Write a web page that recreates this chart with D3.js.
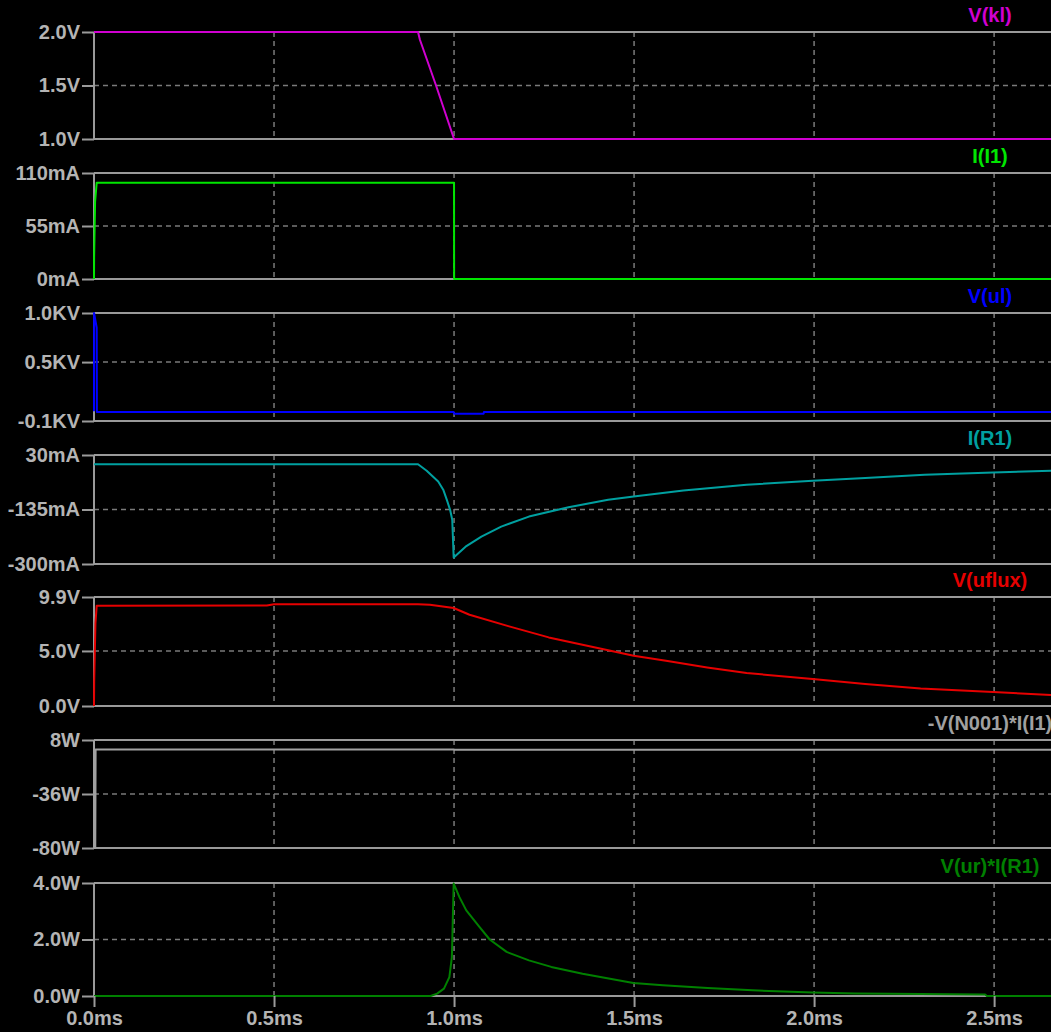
<!DOCTYPE html>
<html>
<head>
<meta charset="utf-8">
<script src="https://cdn.jsdelivr.net/npm/d3@7/dist/d3.min.js"></script>
<style>
  html, body { margin: 0; padding: 0; background: #000; overflow: hidden; }
  svg { display: block; }
  text { font-family: "Liberation Sans", Arial, sans-serif; font-weight: bold; }
</style>
</head>
<body>
<svg id="chart" width="1051" height="1032"></svg>
<script>
// ---- time axis ----
const timeTicks = [0, 0.5, 1.0, 1.5, 2.0, 2.5];
const timeTickLabels = ["0.0ms", "0.5ms", "1.0ms", "1.5ms", "2.0ms", "2.5ms"];
const timeEnd = 2.658;

// ---- trace names (one per pane) ----
const traceNames = ["V(kl)", "I(I1)", "V(ul)", "I(R1)", "V(uflux)", "-V(N001)*I(I1)", "V(ur)*I(R1)"];

// ---- y ticks per pane: [bottom, middle, top] ----
const yTickValues = [
  [1.0, 1.5, 2.0],
  [0, 55, 110],
  [-0.1, 0.5, 1.0],
  [-300, -135, 30],
  [0, 5.0, 9.9],
  [-80, -36, 8],
  [0, 2.0, 4.0]
];
const yTickLabels = [
  ["1.0V", "1.5V", "2.0V"],
  ["0mA", "55mA", "110mA"],
  ["-0.1KV", "0.5KV", "1.0KV"],
  ["-300mA", "-135mA", "30mA"],
  ["0.0V", "5.0V", "9.9V"],
  ["-80W", "-36W", "8W"],
  ["0.0W", "2.0W", "4.0W"]
];

// ---- waveforms: [time (ms), value] ----
const vKl = [[0, 2.0], [0.9, 2.0], [0.905, 1.93], [0.95, 1.5], [1.0, 1.0], [2.658, 1.0]];

const iI1 = [[0, 0], [0.0003, 22], [0.003, 80], [0.0075, 100], [1.0, 100], [1.0002, 0], [2.658, 0]];

const vUl = [[0, 0], [0.0002, 1.0], [0.0075, 0.85], [0.008, -0.009], [0.999, -0.009],
             [1.0, -0.026], [1.082, -0.026], [1.083, -0.009], [2.658, -0.009]];

const iR1 = [[0, 2], [0.9, 2], [0.924, -17.7], [0.956, -50], [0.970, -75], [0.980, -106],
             [0.989, -136], [0.995, -166], [0.999, -280], [1.032, -247.5], [1.076, -217],
             [1.131, -186.8], [1.208, -156.4], [1.318, -127.9], [1.428, -105.7],
             [1.499, -95.7], [1.637, -77.5], [1.8125, -60.2], [1.996, -48], [2.142, -39.8],
             [2.307, -29.8], [2.497, -22.8], [2.658, -17.7]];

const vUflux = [[0, 0], [0.0005, 2.2], [0.004, 7.5], [0.0075, 9.1], [0.48, 9.12], [0.5, 9.25],
                [0.9, 9.25], [0.933, 9.2], [0.999, 8.9], [1.043, 8.29], [1.153, 7.23],
                [1.263, 6.23], [1.373, 5.45], [1.499, 4.57], [1.593, 4.08], [1.703, 3.5],
                [1.8125, 3.0], [1.996, 2.45], [2.142, 2.0], [2.296, 1.6], [2.497, 1.27],
                [2.658, 1.0]];

const pI1 = [[0, 8], [0.0005, -80], [0.001, -25], [0.0015, -65], [0.002, -25], [0.0025, -65],
             [0.003, -30], [0.0035, -80], [0.0045, 0.3], [1.0, 0.3], [1.0002, 0], [2.658, 0]];

const pR1 = [[0, 0], [0.935, 0], [0.953, 0.085], [0.972, 0.26], [0.987, 0.67], [0.994, 1.38],
             [0.999, 3.98], [1.015, 3.5], [1.034, 3.03], [1.071, 2.44], [1.099, 2.0],
             [1.146, 1.56], [1.208, 1.26], [1.270, 1.03], [1.357, 0.79], [1.498, 0.46],
             [1.580, 0.38], [1.704, 0.28], [1.829, 0.20], [1.996, 0.12], [2.114, 0.085],
             [2.475, 0.05], [2.48, 0], [2.658, 0]];

const traceData = [vKl, iI1, vUl, iR1, vUflux, pI1, pR1];

// ---- presentation ----
const traceColors = ["#d000d0", "#00e600", "#0000ff", "#00a0a0", "#e60000", "#a0a0a0", "#008000"];
const paneTop    = [32, 173, 313, 455, 597, 740, 883];
const paneBottom = [139, 279, 421, 564, 706, 848, 996];
const plotLeft = 94, plotRight = 1051;
const labelCenterX = 990;
const axisColor = "#9a9a9a";
const gridColor = "#7a7a7a";
const textColor = "#b4b4b4";

const svg = d3.select("#chart");
svg.append("rect").attr("width", 1051).attr("height", 1032).attr("fill", "#000");

const x = d3.scaleLinear().domain([0, timeEnd]).range([plotLeft, plotRight]);

traceNames.forEach((name, i) => {
  const ticks = yTickValues[i];
  const y = d3.scaleLinear()
    .domain([ticks[0], ticks[2]])
    .range([paneBottom[i], paneTop[i]]);

  const g = svg.append("g").attr("class", "pane");

  // vertical time grid (dashed)
  g.selectAll("line.vgrid")
    .data(timeTicks.filter(t => t > 0))
    .join("line")
    .attr("x1", d => x(d)).attr("x2", d => x(d))
    .attr("y1", paneTop[i]).attr("y2", paneBottom[i])
    .attr("stroke", gridColor).attr("stroke-width", 1.5)
    .attr("stroke-dasharray", "5,4");

  // middle horizontal grid (dashed)
  g.append("line")
    .attr("x1", plotLeft).attr("x2", plotRight)
    .attr("y1", y(ticks[1])).attr("y2", y(ticks[1]))
    .attr("stroke", gridColor).attr("stroke-width", 1.5)
    .attr("stroke-dasharray", "5,4");

  // y axis with ticks at bottom / middle / top
  const yAxis = d3.axisLeft(y)
    .tickValues(ticks)
    .tickFormat((d, k) => yTickLabels[i][k])
    .tickSize(12)
    .tickPadding(2);
  const ag = g.append("g").attr("transform", `translate(${plotLeft},0)`).call(yAxis);
  ag.select(".domain").attr("stroke", axisColor).attr("stroke-width", 2).attr("d",
    `M0,${paneTop[i]}V${paneBottom[i]}`);
  ag.selectAll(".tick line").attr("stroke", axisColor).attr("stroke-width", 2);
  ag.selectAll(".tick text")
    .attr("fill", textColor)
    .style("font-size", "20px")
    .style("font-family", "'Liberation Sans', Arial, sans-serif")
    .style("font-weight", "bold");

  // top and bottom pane borders
  [paneTop[i], paneBottom[i]].forEach(yy => {
    g.append("line")
      .attr("x1", plotLeft).attr("x2", plotRight)
      .attr("y1", yy).attr("y2", yy)
      .attr("stroke", axisColor).attr("stroke-width", 2);
  });

  // trace name
  g.append("text")
    .attr("x", labelCenterX).attr("y", paneTop[i] - 10)
    .attr("text-anchor", "middle")
    .attr("fill", traceColors[i])
    .style("font-size", "20px")
    .text(name);

  // waveform
  const line = d3.line().x(d => x(d[0])).y(d => y(d[1]));
  g.append("path")
    .datum(traceData[i])
    .attr("d", line)
    .attr("fill", "none")
    .attr("stroke", traceColors[i])
    .attr("stroke-width", 2)
    .attr("stroke-linejoin", "round");
});

// time axis under the last pane
const lastBottom = paneBottom[paneBottom.length - 1];
const xAxis = d3.axisBottom(x)
  .tickValues(timeTicks)
  .tickFormat((d, k) => timeTickLabels[k])
  .tickSize(11)
  .tickPadding(4);
const xg = svg.append("g").attr("transform", `translate(0,${lastBottom})`).call(xAxis);
xg.select(".domain").remove();
xg.selectAll(".tick line").attr("stroke", axisColor).attr("stroke-width", 2);
xg.selectAll(".tick text")
  .attr("fill", textColor)
  .style("font-size", "20px")
  .style("font-family", "'Liberation Sans', Arial, sans-serif")
  .style("font-weight", "bold");
</script>
</body>
</html>
